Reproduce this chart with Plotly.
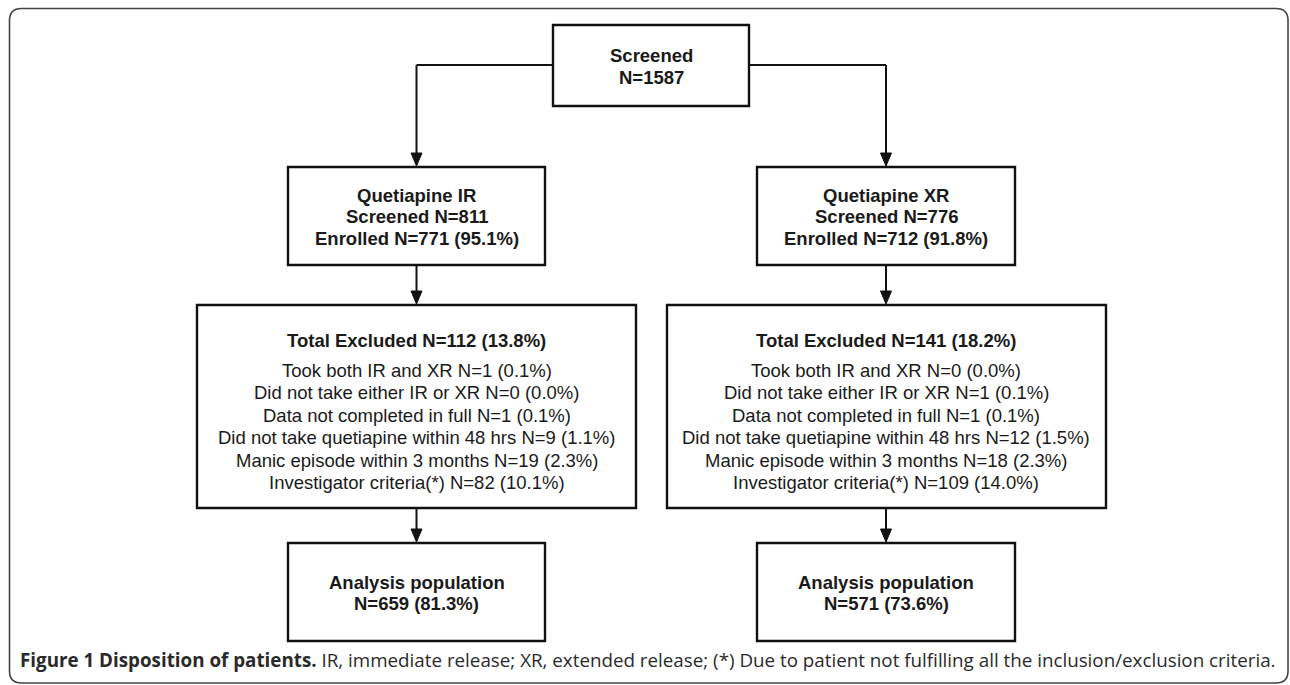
import plotly.graph_objects as go

# ---- content ----
screened_lines = ["Screened", "N=1587"]
ir_lines = ["Quetiapine IR", "Screened N=811", "Enrolled N=771 (95.1%)"]
xr_lines = ["Quetiapine XR", "Screened N=776", "Enrolled N=712 (91.8%)"]
ir_excl_title = "Total Excluded N=112 (13.8%)"
ir_excl_lines = [
    "Took both IR and XR N=1 (0.1%)",
    "Did not take either IR or XR N=0 (0.0%)",
    "Data not completed in full N=1 (0.1%)",
    "Did not take quetiapine within 48 hrs N=9 (1.1%)",
    "Manic episode within 3 months N=19 (2.3%)",
    "Investigator criteria(*) N=82 (10.1%)",
]
xr_excl_title = "Total Excluded N=141 (18.2%)"
xr_excl_lines = [
    "Took both IR and XR N=0 (0.0%)",
    "Did not take either IR or XR N=1 (0.1%)",
    "Data not completed in full N=1 (0.1%)",
    "Did not take quetiapine within 48 hrs N=12 (1.5%)",
    "Manic episode within 3 months N=18 (2.3%)",
    "Investigator criteria(*) N=109 (14.0%)",
]
ir_analysis = ["Analysis population", "N=659 (81.3%)"]
xr_analysis = ["Analysis population", "N=571 (73.6%)"]
caption_bold = "Figure 1 Disposition of patients."
caption_rest = " IR, immediate release; XR, extended release; (*) Due to patient not fulfilling all the inclusion/exclusion criteria."

W, H = 1290, 685
BOX_FONT = "Liberation Sans, Arial, Helvetica, sans-serif"
TXT = "#1a1a1a"
FS = 18.5

fig = go.Figure()
shapes = []
annotations = []

def box(x0, y0, x1, y1):
    shapes.append(dict(type="rect", xref="x", yref="y", x0=x0, y0=y0, x1=x1, y1=y1,
                       line=dict(color="#111111", width=2.4), fillcolor="rgba(0,0,0,0)"))

def line(x0, y0, x1, y1):
    shapes.append(dict(type="line", xref="x", yref="y", x0=x0, y0=y0, x1=x1, y1=y1,
                       line=dict(color="#111111", width=2)))

def arrow_down(x, y0, y1):
    line(x, y0, x, y1 - 10)
    shapes.append(dict(type="path", xref="x", yref="y",
                       path=f"M {x-5.5},{y1-13} L {x+5.5},{y1-13} L {x},{y1} Z",
                       fillcolor="#111111", line=dict(color="#111111", width=1)))

def text(x, y, s, bold=False, size=FS, font=BOX_FONT):
    annotations.append(dict(x=x, y=y, xref="x", yref="y", text=(f"<b>{s}</b>" if bold else s),
                            showarrow=False, xanchor="center", yanchor="middle",
                            font=dict(family=font, size=size, color=TXT)))

# outer rounded frame
r = 12
x0f, y0f, x1f, y1f = 9.5, 8.5, 1288, 683
shapes.append(dict(type="path", xref="x", yref="y",
                   path=(f"M {x0f+r},{y0f} L {x1f-r},{y0f} Q {x1f},{y0f} {x1f},{y0f+r} "
                         f"L {x1f},{y1f-r} Q {x1f},{y1f} {x1f-r},{y1f} L {x0f+r},{y1f} "
                         f"Q {x0f},{y1f} {x0f},{y1f-r} L {x0f},{y0f+r} Q {x0f},{y0f} {x0f+r},{y0f} Z"),
                   line=dict(color="#444444", width=1.6), fillcolor="rgba(0,0,0,0)"))

cL, cR, cT = 416.5, 886, 651

# top box
box(553, 25, 749, 106)
for i, s in enumerate(screened_lines):
    text(cT, 55 + 22 * i, s, bold=True)

# connectors from top
line(416.5, 65, 553, 65)
line(749, 65, 886, 65)
arrow_down(cL, 65, 166)
arrow_down(cR, 65, 166)

# second level
box(288, 167, 545, 265)
box(757, 167, 1015, 265)
for i, s in enumerate(ir_lines):
    text(cL, 195 + 21.5 * i, s, bold=True)
for i, s in enumerate(xr_lines):
    text(cR, 195 + 21.5 * i, s, bold=True)

arrow_down(cL, 265, 304)
arrow_down(cR, 265, 304)

# exclusion boxes
box(197, 305, 636, 508)
box(667, 305, 1106, 508)
text(cL, 340, ir_excl_title, bold=True)
text(cR, 340, xr_excl_title, bold=True)
for i, s in enumerate(ir_excl_lines):
    text(cL, 370.5 + 22.4 * i, s)
for i, s in enumerate(xr_excl_lines):
    text(cR, 370.5 + 22.4 * i, s)

arrow_down(cL, 508, 542)
arrow_down(cR, 508, 542)

# analysis boxes
box(288, 543, 545, 641)
box(757, 543, 1015, 641)
for i, s in enumerate(ir_analysis):
    text(cL, 582 + 21.5 * i, s, bold=True)
for i, s in enumerate(xr_analysis):
    text(cR, 582 + 21.5 * i, s, bold=True)

# caption
annotations.append(dict(x=18, y=660, xref="x", yref="y",
                        text=f"<b>{caption_bold}</b>{caption_rest}",
                        showarrow=False, xanchor="left", yanchor="middle",
                        font=dict(family="Open Sans, sans-serif", size=18.8, color="#2a2a2a")))

fig.update_layout(
    width=W, height=H,
    margin=dict(l=0, r=0, t=0, b=0),
    paper_bgcolor="white", plot_bgcolor="white",
    xaxis=dict(range=[0, W], visible=False, fixedrange=True),
    yaxis=dict(range=[H, 0], visible=False, fixedrange=True),
    shapes=shapes, annotations=annotations, showlegend=False,
)
fig.write_html("out.html", config={"displayModeBar": False},
               post_script="document.body.style.margin='0';document.body.style.overflow='hidden';")
